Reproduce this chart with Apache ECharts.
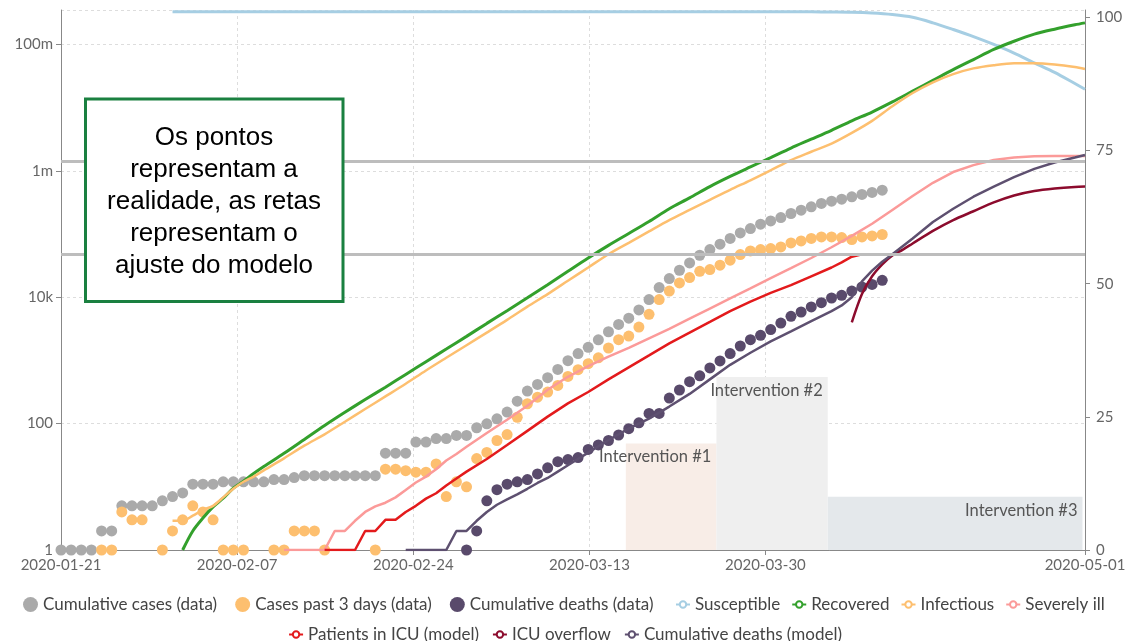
<!DOCTYPE html>
<html>
<head>
<meta charset="utf-8">
<title>Scenario fit</title>
<script src="https://cdn.jsdelivr.net/npm/echarts@6.0.0/dist/echarts.min.js"></script>
<style>
  html, body { margin: 0; padding: 0; background: #fff; }
  #chart { width: 1130px; height: 641px; }
</style>
</head>
<body>
<div id="chart"></div>
<script>
// day 0 = 2020-01-21
const BASE = new Date(2020, 0, 21).getTime();
const DAY = 86400000;

const xTicks = ['2020-01-21', '2020-02-07 09:00', '2020-02-24 18:00', '2020-03-13 03:00', '2020-03-30 11:30', '2020-05-01'];

// observed data, one value per day
const casesStart = 0;
const casesCumulative = [1, 1, 1, 1, 2, 2, 5, 5, 5, 5, 6, 7, 8, 11, 11, 11, 12, 12, 12, 12,
  12, 13, 13, 14, 15, 15, 15, 15, 15, 15, 15, 15, 34, 34, 34, 51, 51, 58, 58, 65,
  65, 86, 99, 119, 152, 226, 327, 417, 532, 720, 990, 1280, 1610, 2120, 2840, 3700, 4650, 6300, 9160, 14200,
  19700, 26700, 34800, 46100, 56800, 68900, 84900, 104000, 122000, 143000, 161000, 182000, 211000, 238000, 269000, 304000, 331000, 356000, 387000, 423000,
  455000, 494000];
const casesPast3Days = [null, null, null, null, 1, 1, 4, 3, 3, null, 1, 2, 3, 5, 4, 3, 1, 1, 1, null,
  null, 1, 1, 2, 2, 2, 1, null, null, null, null, 1, 19, 19, 18, 17, 17, 23, 7, 12,
  10, 28, 35, 54, 67, 126, 206, 262, 315, 402, 557, 713, 887, 1100, 1570, 2130, 2430, 3370, 5360, 9160,
  12500, 16800, 20400, 25700, 27400, 32100, 38500, 47300, 54000, 56800, 58900, 62500, 72300, 77800, 84900, 90000, 90000, 87900, 81800, 90000,
  93300, 98200];
const deathsStart = 40;
const deathsCumulative = [1, 2, 6, 9, 11, 12, 13, 16, 20, 25, 27, 29, 39, 46, 54, 66, 83, 103, 145, 145,
  253, 340, 460, 570, 760, 980, 1280, 1690, 2130, 2490, 3070, 3900, 4980, 5830, 7000, 8200, 9710, 10700, 12500, 14500,
  15900, 18500];

// model curves as [day, value]
const susceptible = [[11, 327000000], [74, 327000000], [76, 325000000], [78, 322000000], [80, 313000000], [82, 296000000],
  [84, 268000000], [86, 219000000], [88, 172000000], [90, 133000000], [92, 100000000], [94, 73000000], [96, 51000000],
  [98, 36000000], [100, 24000000], [101, 19500000]];
const recovered = [[12, 1], [13, 2], [14, 3.2], [15, 4.8], [16, 6.6], [17, 9.5], [18, 12.3], [19, 16.2], [20, 20.9], [22, 33.9],
  [24, 56.2], [26, 93.3], [28, 151], [30, 240], [32, 377], [34, 600], [36, 955], [38, 1510], [40, 2400], [42, 3850],
  [44, 6120], [46, 9770], [48, 15800], [50, 25700], [52, 41700], [54, 66100], [56, 102000], [58, 158000], [60, 251000],
  [62, 372000], [64, 562000], [66, 813000], [68, 1150000], [70, 1620000], [72, 2290000], [74, 3160000], [76, 4370000],
  [78, 6170000], [80, 8510000], [82, 12300000], [84, 18200000], [86, 26900000], [88, 39800000], [90, 57500000],
  [92, 83200000], [94, 112000000], [96, 145000000], [98, 174000000], [100, 204000000], [101, 219000000]];
const infectious = [[11, 2.9], [12, 2.9], [13, 3.5], [14, 4.3], [15, 5], [16, 6.8], [17, 9.3], [18, 12], [19, 14.5], [20, 18.2],
  [22, 28.2], [24, 44.7], [26, 67.6], [28, 107], [30, 170], [32, 269], [34, 427], [36, 692], [38, 1100], [40, 1740],
  [42, 2750], [44, 4370], [46, 7080], [48, 11200], [50, 18200], [52, 29500], [54, 47900], [56, 72400], [58, 110000],
  [60, 166000], [62, 240000], [64, 347000], [66, 501000], [68, 708000], [70, 1020000], [72, 1480000], [74, 2000000],
  [76, 2690000], [78, 3980000], [80, 6170000], [82, 10500000], [84, 17000000], [86, 25100000], [88, 33900000],
  [90, 41700000], [92, 46800000], [94, 50100000], [96, 50100000], [98, 47900000], [100, 43700000], [101, 40700000]];
const severelyIll = [[22, 1], [26, 1], [27, 2], [28, 2], [29, 2.9], [30, 4], [31, 4.9], [32, 5.6], [33, 6.8], [34, 8.9],
  [35, 11.7], [36, 14.5], [37, 19], [38, 26], [39, 33], [40, 43], [42, 71], [44, 115], [46, 191], [48, 343], [50, 550],
  [52, 813], [54, 1150], [56, 1580], [58, 2240], [60, 3160], [62, 4570], [64, 6610], [66, 9550], [68, 13800], [70, 20000],
  [72, 28800], [74, 41700], [76, 61700], [78, 93300], [80, 145000], [82, 240000], [84, 398000], [86, 646000],
  [88, 955000], [90, 1230000], [92, 1480000], [94, 1620000], [96, 1700000], [98, 1720000], [101, 1720000]];
const icuPatients = [[26, 1], [29, 1], [30, 2], [31, 2], [32, 3], [33, 3], [34, 4], [35, 5], [36, 6.5], [37, 7.9], [38, 10.5],
  [39, 13.5], [40, 17.4], [42, 27.5], [44, 45.7], [46, 76.7], [48, 129], [50, 209], [52, 316], [54, 501], [56, 776],
  [58, 1200], [60, 1860], [62, 2750], [64, 4070], [66, 6030], [68, 8510], [70, 11700], [72, 15500], [74, 21400],
  [76, 29500], [77, 35500], [78, 43700], [79, 47900], [101, 47900]];
const icuOverflow = [[78, 3980], [79, 11200], [80, 21400], [81, 33100], [82, 45700], [83, 56200], [84, 70800], [86, 112000],
  [88, 166000], [90, 229000], [92, 316000], [94, 407000], [96, 479000], [98, 525000], [100, 556000], [101, 562000]];
const deathsModel = [[34, 1], [38, 1], [39, 2], [40, 2], [41, 2.9], [42, 4], [43, 5.2], [44, 6.3], [45, 7.6], [46, 9.3],
  [47, 11.5], [48, 13.8], [49, 17.4], [50, 21.9], [52, 34.7], [54, 55], [56, 83.2], [58, 120], [60, 186], [62, 295],
  [64, 501], [66, 851], [68, 1320], [70, 2000], [72, 2880], [74, 4170], [76, 6030], [77, 7410], [78, 10000], [79, 17800],
  [80, 26300], [81, 36300], [82, 47900], [84, 85100], [86, 155000], [88, 251000], [90, 389000], [92, 562000],
  [94, 794000], [96, 1070000], [98, 1350000], [100, 1620000], [101, 1780000]];

// capacity levels (hospital beds, ICU beds)
const capacityLevels = [1440000, 48000];

// interventions (right axis, %)
const interventionNames = ['Intervention #1', 'Intervention #2', 'Intervention #3'];
const interventionStarts = ['2020-03-16 17:00', '2020-03-25 15:30', '2020-04-05 15:00'];
const interventionEnds = ['2020-03-25 15:30', '2020-04-05 15:00', '2020-04-30 18:00'];
const interventionLevels = [20, 32.5, 10];
const interventionColors = ['#f8ede7', '#efefef', '#e4e8eb'];

const annotationLines = ['Os pontos', 'representam a', 'realidade, as retas', 'representam o', 'ajuste do modelo'];

function dayPoints(start, values) {
  const out = [];
  values.forEach((v, i) => { if (v != null) out.push([BASE + (start + i) * DAY, v]); });
  return out;
}
function pairPoints(pairs) {
  return pairs.map(p => [BASE + p[0] * DAY, p[1]]);
}
function fmtCount(v) {
  v = Math.round(v);
  if (v >= 1e6) return (v / 1e6) + 'm';
  if (v >= 1e3) return (v / 1e3) + 'k';
  return String(v);
}

const FONT = 'Lato';
const legendText = { fontFamily: FONT, fontSize: 17, color: '#444' };

function dots(name, start, values, color) {
  return {
    name: name, type: 'scatter', symbol: 'circle', symbolSize: 11,
    data: dayPoints(start, values),
    itemStyle: { color: color, opacity: 1 }
  };
}
function curve(name, pairs, color, width, smooth) {
  return {
    name: name, type: 'line', symbol: 'emptyCircle', showSymbol: false,
    smooth: smooth, data: pairPoints(pairs),
    lineStyle: { color: color, width: width },
    itemStyle: { color: color }
  };
}

const chart = echarts.init(document.getElementById('chart'));

const option = {
  animation: false,
  textStyle: { fontFamily: FONT },
  grid: { left: 61, right: 45, top: 10, bottom: 91, containLabel: false },
  xAxis: {
    type: 'time',
    min: '2020-01-21',
    max: '2020-05-01',
    axisLine: { lineStyle: { color: '#888' } },
    axisTick: { show: true, length: 5, customValues: xTicks, lineStyle: { color: '#888' } },
    axisLabel: { customValues: xTicks, formatter: '{yyyy}-{MM}-{dd}', color: '#666', fontSize: 15, fontFamily: FONT, margin: 8 },
    splitLine: { show: true, lineStyle: { color: '#ddd', type: [3, 3] } }
  },
  yAxis: [
    {
      type: 'log', logBase: 100, min: 1, max: 350000000,
      axisLine: { show: true, lineStyle: { color: '#888' } },
      axisTick: { show: true, length: 5, lineStyle: { color: '#888' } },
      axisLabel: { color: '#666', fontSize: 15, fontFamily: FONT, margin: 8, showMaxLabel: false, formatter: fmtCount },
      splitLine: { show: true, lineStyle: { color: '#ddd', type: [3, 3] } }
    },
    {
      type: 'value', position: 'right', min: 0, max: 101.4, interval: 25,
      axisLine: { show: true, lineStyle: { color: '#888' } },
      axisTick: { show: true, length: 5, lineStyle: { color: '#888' } },
      axisLabel: { color: '#666', fontSize: 15, fontFamily: FONT, margin: 11, showMaxLabel: false },
      splitLine: { show: false }
    }
  ],
  legend: [
    {
      left: 18, top: 591, itemWidth: 15, itemHeight: 15, itemGap: 18,
      textStyle: legendText,
      data: [
        { name: 'Cumulative cases (data)', icon: 'circle' },
        { name: 'Cases past 3 days (data)', icon: 'circle' },
        { name: 'Cumulative deaths (data)', icon: 'circle' }
      ]
    },
    {
      left: 670, top: 591, width: 480, itemWidth: 14, itemHeight: 8, itemGap: 11,
      textStyle: legendText,
      data: ['Susceptible', 'Recovered', 'Infectious', 'Severely ill']
    },
    {
      left: 'center', top: 621, itemWidth: 14, itemHeight: 8, itemGap: 13,
      textStyle: legendText,
      data: ['Patients in ICU (model)', 'ICU overflow', 'Cumulative deaths (model)']
    }
  ],
  series: [
    {
      name: 'interventions', type: 'line', yAxisIndex: 1, data: [], z: 1, silent: true,
      markArea: {
        silent: true,
        data: interventionNames.map((n, i) => [
          {
            name: n, xAxis: interventionStarts[i], yAxis: 0,
            itemStyle: { color: interventionColors[i] },
            label: { show: true, position: 'insideTopRight', color: '#555', fontSize: 16.5, fontFamily: FONT }
          },
          { xAxis: interventionEnds[i], yAxis: interventionLevels[i] }
        ])
      }
    },
    dots('Cumulative cases (data)', casesStart, casesCumulative, '#aaaaaa'),
    dots('Cases past 3 days (data)', casesStart, casesPast3Days, '#fdbf6f'),
    dots('Cumulative deaths (data)', deathsStart, deathsCumulative, '#594a6b'),
    curve('Susceptible', susceptible, '#a6cee3', 3, 0.3),
    curve('Recovered', recovered, '#33a02c', 3, 0.3),
    curve('Infectious', infectious, '#fdbf6f', 2.5, 0.3),
    curve('Severely ill', severelyIll, '#fb9a99', 2.5, false),
    curve('Patients in ICU (model)', icuPatients, '#e31a1c', 2.5, false),
    curve('ICU overflow', icuOverflow, '#8c0b2d', 2.5, 0.3),
    curve('Cumulative deaths (model)', deathsModel, '#5e5070', 2.5, false),
    {
      name: 'capacity', type: 'line', data: [], z: 3, silent: true,
      markLine: {
        silent: true, symbol: 'none', label: { show: false },
        lineStyle: { color: '#bdbdbd', width: 3, type: 'solid' },
        data: capacityLevels.map(v => ({ yAxis: v }))
      }
    }
  ],
  graphic: [
    {
      type: 'rect', z: 100,
      shape: { x: 85.5, y: 99, width: 257.5, height: 202.5 },
      style: { fill: '#fff', stroke: '#1a8040', lineWidth: 3 }
    },
    {
      type: 'text', z: 101, x: 214, y: 202,
      style: {
        text: annotationLines.join('\n'),
        fontSize: 26, fontFamily: '"Liberation Sans", Arial, sans-serif',
        fill: '#000', align: 'center', verticalAlign: 'middle',
        textAlign: 'center', textVerticalAlign: 'middle', lineHeight: 32
      }
    }
  ]
};

chart.setOption(option);
</script>
</body>
</html>
